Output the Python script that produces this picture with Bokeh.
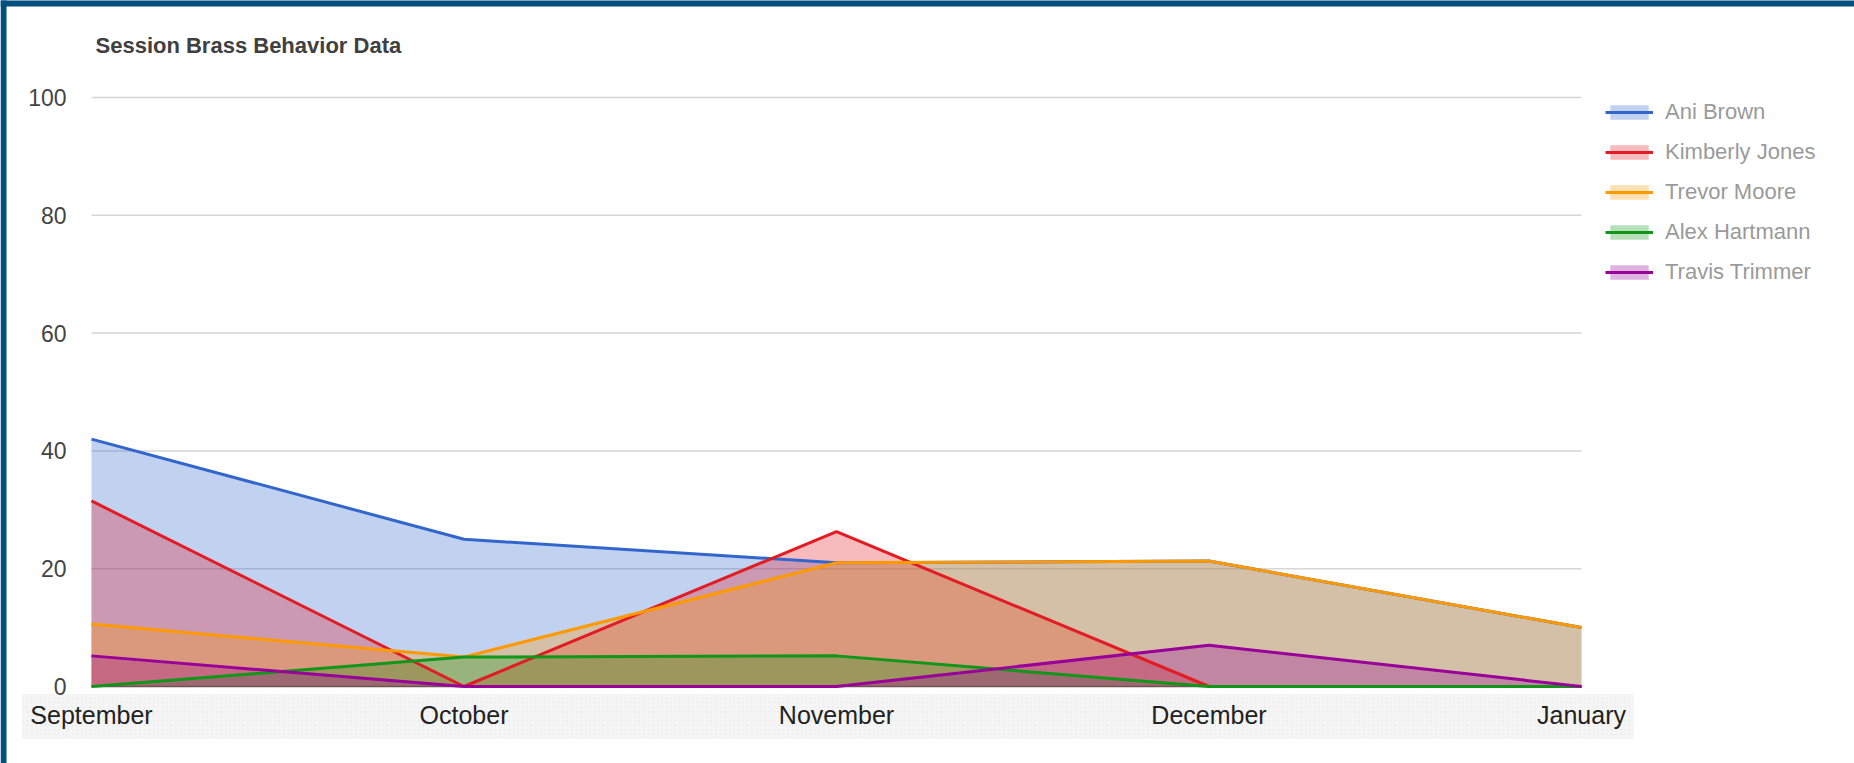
from bokeh.plotting import figure
from bokeh.models import Range1d, LinearAxis, FixedTicker, Legend, LegendItem, Label
from bokeh.embed import file_html
from bokeh.resources import INLINE

# ---------------- data ----------------
title_text = "Session Brass Behavior Data"
months = ["September", "October", "November", "December", "January"]
month_pos = [0, 1, 2, 3, 4]
y_ticks = [0, 20, 40, 60, 80, 100]

names = ["Ani Brown", "Kimberly Jones", "Trevor Moore", "Alex Hartmann", "Travis Trimmer"]
ani = [42.0, 25.0, 21.0, 21.3, 10.0]
kimberly = [31.5, 0.0, 26.3, 0.0, 0.0]
trevor = [10.6, 5.0, 21.0, 21.3, 10.0]
alex = [0.0, 5.0, 5.2, 0.0, 0.0]
travis = [5.2, 0.0, 0.0, 7.0, 0.0]
series = [ani, kimberly, trevor, alex, travis]
colors = ["#3366cc", "#e31b23", "#ff9900", "#109618", "#990099"]

# ---------------- layout (picture pixels) ----------------
FIG_W, FIG_H = 1854, 763
BORDER = 6
X0_PX, X4_PX = 91.0, 1581.0      # first / last month
Y0_PX, Y100_PX = 686.0, 97.0     # value 0 / value 100
sx = (X4_PX - X0_PX) / 4.0
sy = (Y0_PX - Y100_PX) / 100.0


def px_x(px):
    return (px - X0_PX) / sx


def px_y(py):
    return (Y0_PX - py) / sy


p = figure(width=FIG_W, height=FIG_H,
           x_range=Range1d(px_x(0), px_x(FIG_W)),
           y_range=Range1d(px_y(FIG_H), px_y(0)),
           output_backend="svg", toolbar_location=None, title=None,
           x_axis_type=None, y_axis_type=None,
           min_border=0, border_fill_color="white",
           background_fill_color="white", outline_line_color=None)

FONT = "Liberation Sans"
FRAME_BLUE = "#02507f"

# page frame (top and left bars)
p.quad(left=[px_x(0), px_x(0)], right=[px_x(FIG_W + 10), px_x(BORDER)],
       bottom=[px_y(BORDER), px_y(FIG_H + 10)], top=[px_y(-10), px_y(-10)],
       fill_color=FRAME_BLUE, line_color=None)

# hatched band behind the month labels
p.quad(left=[px_x(22)], right=[px_x(1633)], bottom=[px_y(738)], top=[px_y(694)],
       fill_color="#e3e3e3", line_color=None, hatch_pattern="/",
       hatch_color="#fbfbfb", hatch_weight=1.5, hatch_scale=4.5)

# gridlines
grid_vals = y_ticks[1:]
p.segment(x0=[month_pos[0]] * len(grid_vals), x1=[month_pos[-1]] * len(grid_vals),
          y0=grid_vals, y1=grid_vals, line_color="#d6d6d6", line_width=1.5)
p.segment(x0=[month_pos[0]], x1=[month_pos[-1]], y0=[0], y1=[0],
          line_color="#555555", line_width=1.5)

areas, lines = [], []
for vals, c in zip(series, colors):
    areas.append(p.varea(x=month_pos, y1=[0] * len(vals), y2=vals,
                         fill_color=c, fill_alpha=0.3))
for vals, c in zip(series, colors):
    lines.append(p.line(x=month_pos, y=vals, line_color=c, line_width=3))

# axes
yaxis = LinearAxis(ticker=FixedTicker(ticks=y_ticks, minor_ticks=[]),
                   fixed_location=0, axis_line_color=None,
                   major_tick_line_color=None, minor_tick_line_color=None,
                   major_tick_out=0, major_tick_in=0, major_label_standoff=25,
                   major_label_text_font=FONT, major_label_text_font_size="23px",
                   major_label_text_color="#444444")
p.add_layout(yaxis, "left")

xaxis = LinearAxis(ticker=FixedTicker(ticks=month_pos, minor_ticks=[]),
                   major_label_overrides={i: m for i, m in zip(month_pos, months)},
                   fixed_location=0, axis_line_color=None,
                   major_tick_line_color=None, minor_tick_line_color=None,
                   major_tick_out=0, major_tick_in=0, major_label_standoff=14,
                   major_label_text_font=FONT, major_label_text_font_size="25px",
                   major_label_text_color="#222222")
p.add_layout(xaxis, "below")

# title
p.add_layout(Label(x=px_x(95), y=px_y(45), text=title_text,
                   text_font=FONT, text_font_style="bold",
                   text_font_size="22px", text_color="#404040",
                   text_align="left", text_baseline="middle"))

# legend (location = bottom-left of the legend box, from frame bottom-left)
ROW_H, GAP = 25, 14
legend_top = 104
legend_bottom = legend_top + len(names) * ROW_H + (len(names) - 1) * GAP
items = [LegendItem(label=n, renderers=[a, l]) for n, a, l in zip(names, areas, lines)]
legend = Legend(items=items, location=(1605, FIG_H - legend_bottom),
                orientation="vertical", glyph_width=48, glyph_height=18,
                label_standoff=12, spacing=GAP, padding=0, margin=0,
                border_line_color=None, background_fill_alpha=0,
                label_text_font=FONT, label_text_font_size="22px",
                label_text_color="#9a9a9a")
p.add_layout(legend)

open("out.html", "w").write(file_html(p, INLINE))
